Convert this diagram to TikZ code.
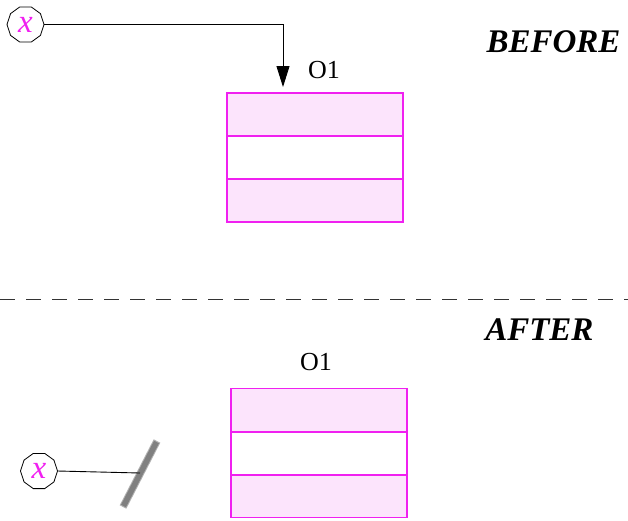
\documentclass[tikz,border=0pt]{standalone}
\usepackage{fontspec}
\setmainfont{Liberation Serif}
\usetikzlibrary{shapes.geometric,arrows.meta}
\definecolor{objpink}{HTML}{FCE4FC}
\definecolor{objline}{HTML}{F020F0}
\tikzset{
  varnode/.style={regular polygon,regular polygon sides=10,draw=black,line width=0.8pt,inner sep=0pt,minimum size=37pt,font=\fontsize{33}{33}\selectfont\itshape,text=objline},
  objbox/.style={draw=objline,line width=1.3pt,minimum width=176pt,minimum height=129pt,inner sep=0pt},
  objlabel/.style={font=\fontsize{26}{26}\selectfont},
  phase/.style={font=\fontsize{33}{33}\selectfont\bfseries\itshape},
  conn/.style={line width=0.9pt,black}
}
\begin{document}
\begin{tikzpicture}[x=1pt,y=-1pt]
\useasboundingbox (0,0) rectangle (628,520);
% BEFORE
\fill[objpink] (227,93) rectangle (403,136);
\fill[objpink] (227,179) rectangle (403,222);
\node[objbox] (box1) at (315,157.5) {};
\draw[objline,line width=1.1pt] (227,136) -- (403,136) (227,179) -- (403,179);
\node[objlabel] (o1a) at (324,70.5) {O1};
\node[varnode] (x1) at (25.5,24.5) {x};
\coordinate (t1) at (283,87);
\draw[conn,-{Triangle[length=21pt,width=13pt]}] (x1.east) -| (t1);
\node[phase,anchor=east] (before) at (624,42) {BEFORE};
% separator
\draw[black!80,line width=0.9pt,dash pattern=on 15pt off 11pt] (0,299) -- (628,299);
% AFTER
\node[phase,anchor=east] (after) at (597,330) {AFTER};
\fill[objpink] (231,388) rectangle (407,432);
\fill[objpink] (231,475) rectangle (407,518);
\node[objbox] (box2) at (319,453) {};
\draw[objline,line width=1.1pt] (231,432) -- (407,432) (231,475) -- (407,475);
\node[objlabel] (o1b) at (316,362) {O1};
\node[varnode] (x2) at (39,471) {x};
\draw[gray!60,line width=7.5pt] (157,441) -- (123,507);
\draw[gray,line width=5.5pt] (156.5,442) -- (123.5,506);
\coordinate (bar) at (140,473);
\draw[conn] (x2.east) -- (bar);
\end{tikzpicture}
\end{document}
